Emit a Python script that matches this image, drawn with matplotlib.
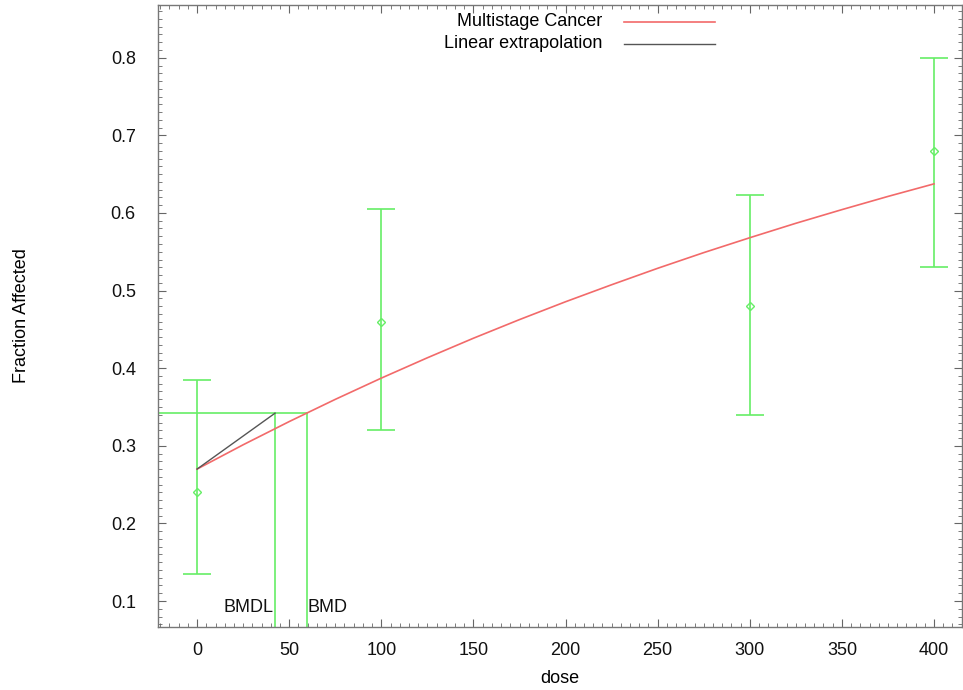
import matplotlib
matplotlib.use("Agg")
import matplotlib.pyplot as plt
from matplotlib.ticker import MultipleLocator

plt.rcParams['font.family'] = ['Liberation Sans', 'DejaVu Sans']

# observed data (dose, fraction affected, lower/upper CI)
dose = [0, 100, 300, 400]
frac = [0.24, 0.46, 0.48, 0.68]
ci_lo = [0.135, 0.320, 0.340, 0.530]
ci_hi = [0.385, 0.605, 0.623, 0.800]

# multistage cancer curve
curve_dose = [0, 25, 50, 75, 100, 125, 150, 175, 200, 225, 250, 275, 300, 325, 350, 375, 400]
curve_frac = [0.270, 0.3013, 0.3312, 0.3598, 0.3872, 0.4134, 0.4386, 0.4626, 0.4856,
              0.5075, 0.5287, 0.5489, 0.5681, 0.5867, 0.6043, 0.6213, 0.6375]

bmd = 59.7
bmdl = 42.3
bmr_level = 0.342
bg = 0.270

green = '#66ee66'
red = '#f26a6a'
fs = 13

fig = plt.figure(figsize=(9.63, 6.9), dpi=100)
ax = fig.add_axes([0.1641, 0.0913, 0.8349, 0.9015])

ax.plot(curve_dose, curve_frac, color=red, lw=1.2, zorder=3)
ax.plot([0, bmdl], [bg, bmr_level], color='#555555', lw=1.0, zorder=3)

lo_err = [f - l for f, l in zip(frac, ci_lo)]
hi_err = [h - f for f, h in zip(frac, ci_hi)]
ax.errorbar(dose, frac, yerr=[lo_err, hi_err], fmt='D', ms=4.5, mfc='none',
            mec=green, ecolor=green, elinewidth=1.2, capsize=10, capthick=1.2, zorder=2)

# BMD / BMDL markers
ax.plot([-30, bmd], [bmr_level, bmr_level], color=green, lw=1.2)
ax.plot([bmdl, bmdl], [0, bmr_level], color=green, lw=1.2)
ax.plot([bmd, bmd], [0, bmr_level], color=green, lw=1.2)
ax.text(bmdl - 1, 0.092, "BMDL", ha='right', va='center', fontsize=fs, color='#111111')
ax.text(bmd + 0.5, 0.092, "BMD", ha='left', va='center', fontsize=fs, color='#111111')

ax.set_xlim(-21.2, 415.2)
ax.set_ylim(0.0665, 0.868)
ax.xaxis.set_major_locator(MultipleLocator(50))
ax.xaxis.set_minor_locator(MultipleLocator(5))
ax.yaxis.set_major_locator(MultipleLocator(0.1))
ax.yaxis.set_minor_locator(MultipleLocator(0.01))
ax.yaxis.set_major_formatter(plt.FuncFormatter(lambda v, p: "%.1f" % v))

ax.tick_params(which='both', direction='in', top=True, right=True, colors='#666666',
               labelcolor='#111111', labelsize=fs)
ax.tick_params(which='major', length=6)
ax.tick_params(which='minor', length=3)
ax.tick_params(axis='y', pad=16)
ax.tick_params(axis='x', pad=11)
for s in ax.spines.values():
    s.set_color('#777777')
    s.set_linewidth(1.0)

ax.set_xlabel("dose", fontsize=fs, labelpad=8)
ax.set_ylabel("Fraction Affected", fontsize=fs, labelpad=58)

# legend drawn at the top in gnuplot style
ax.text(0.5522, 0.9727, "Multistage Cancer", transform=ax.transAxes, ha='right', va='center', fontsize=fs)
ax.text(0.5522, 0.9373, "Linear extrapolation", transform=ax.transAxes, ha='right', va='center', fontsize=fs)
ax.plot([0.5796, 0.6928], [0.9727, 0.9727], transform=ax.transAxes, color=red, lw=1.2)
ax.plot([0.5796, 0.6928], [0.9373, 0.9373], transform=ax.transAxes, color='#555555', lw=1.0)

fig.savefig("out.png", dpi=100)
